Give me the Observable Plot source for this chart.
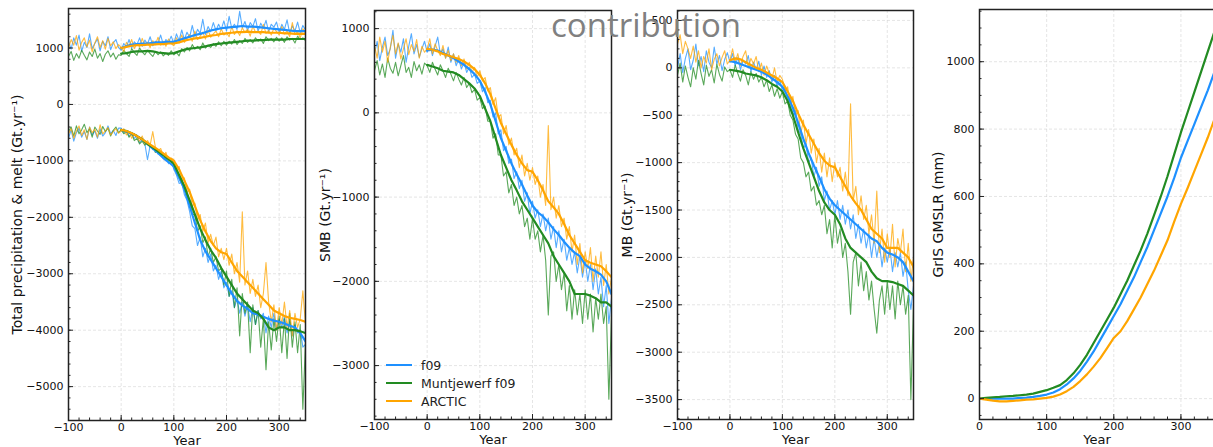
<!DOCTYPE html>
<html><head><meta charset="utf-8">
<script src="https://cdn.jsdelivr.net/npm/d3@7"></script>
<script src="https://cdn.jsdelivr.net/npm/@observablehq/plot@0.6"></script>
<style>
html,body{margin:0;padding:0;background:#fff;overflow:hidden;}
#wrap{position:relative;width:1213px;height:447px;overflow:hidden;font-family:"DejaVu Sans",sans-serif;}
.panel{position:absolute;top:0;}
#title{position:absolute;left:551px;top:2px;font-family:"Open Sans",sans-serif;font-size:33px;line-height:normal;color:#808080;white-space:nowrap;}
#legend{position:absolute;left:386px;top:356px;font-size:12.5px;color:#222;}
.row{display:flex;align-items:center;height:18px;}
.sw{width:26px;height:2.5px;margin-right:9px;}
</style></head>
<body><div id="wrap"></div>
<script>
// ---------- data ----------
const yearsRaw = d3.range(-100, 351, 5);
const yearsSmooth = d3.range(0, 351, 10);
const seriesNames = ["f09", "Muntjewerf f09", "ARCTIC"];
const seriesColors = ["#1e90ff", "#228b22", "#ffa500"];

// Panel 1: total precipitation (upper) & melt (lower), raw annual (every 5 yr)
const precipF09Raw = [1120,980,1180,1050,1230,940,1100,1010,1250,990,1080,1160,950,1120,1040,1200,970,1090,1150,1010,
 960,1080,1020,1150,1000,1110,1060,1180,1030,1140,1070,1200,1040,1120,1090,1230,1060,1150,1100,1210,
 1080,1250,1130,1320,1150,1280,1190,1400,1200,1330,1260,1510,1240,1380,1290,1450,1310,1420,1330,1480,
 1300,1560,1350,1420,1330,1650,1360,1470,1310,1450,1380,1520,1300,1440,1350,1490,1290,1420,1370,1460,
 1280,1420,1330,1500,1260,1390,1300,1460,1270,1400,1320];
const precipMuntRaw = [850,940,780,900,820,960,870,790,930,850,980,820,900,760,890,950,840,910,800,880,
 870,960,900,850,990,920,870,1000,930,880,960,900,850,940,880,930,860,910,870,950,
 880,920,860,990,930,1010,950,1060,980,1030,970,1090,1000,1050,1010,1080,1030,1110,1040,1120,
 1050,1120,1070,1150,1060,1130,1080,1170,1100,1150,1090,1180,1120,1160,1080,1200,1130,1170,1110,1190,
 1120,1180,1100,1200,1140,1170,1090,1210,1150,1180,1130];
const precipArcticRaw = [1000,1150,1050,1220,960,1100,1180,1020,1140,930,1090,1200,1010,1130,980,1170,1040,1110,990,1060,
 1010,940,1100,1030,1150,990,1080,1020,1170,1040,1100,1010,1130,1060,1190,1050,1120,1030,1160,1080,
 1040,1180,1090,1230,1100,1170,1240,1120,1300,1150,1210,1280,1160,1320,1190,1250,1300,1200,1340,1230,
 1270,1200,1380,1240,1310,1220,1360,1270,1330,1210,1390,1280,1300,1240,1420,1260,1310,1230,1350,1290,
 1230,1380,1250,1300,1200,1450,1240,1290,1180,1340,1260];
const meltF09Raw = [-600,-450,-650,-500,-420,-580,-480,-620,-400,-540,-470,-600,-430,-560,-500,-380,-520,-460,-550,-420,
 -420,-500,-460,-560,-530,-600,-560,-680,-620,-700,-980,-730,-800,-780,-880,-850,-950,-920,-1050,-1000,
 -1150,-1250,-1400,-1380,-1600,-1700,-1900,-2150,-2200,-2500,-2350,-2700,-2550,-2800,-2650,-2950,-2850,-3100,-2950,-3250,
 -3150,-3400,-3300,-3600,-3450,-3700,-3500,-3750,-3550,-3850,-3600,-3900,-3650,-3800,-3700,-4050,-3750,-3950,-3700,-4000,
 -3800,-3950,-3750,-4050,-3850,-4100,-3900,-4050,-4000,-4300,-4250];
const meltMuntRaw = [-480,-400,-560,-380,-520,-450,-350,-500,-430,-580,-400,-470,-530,-390,-480,-420,-560,-460,-400,-500,
 -450,-520,-480,-580,-520,-640,-600,-700,-650,-720,-680,-760,-740,-850,-800,-900,-860,-980,-950,-1000,
 -1000,-1200,-1250,-1400,-1450,-1650,-1700,-1950,-1950,-2250,-2150,-2450,-2350,-2700,-2550,-2800,-2700,-2950,-2900,-3200,
 -2950,-3400,-3100,-3600,-3250,-4100,-3350,-3700,-3500,-4400,-3550,-3900,-3650,-4300,-3800,-4700,-3850,-4350,-3800,-4200,
 -3750,-4400,-3800,-4500,-3700,-4300,-3850,-4400,-3900,-5400,-4200];
const meltArcticRaw = [-520,-430,-600,-470,-380,-550,-450,-620,-400,-500,-440,-580,-360,-520,-470,-410,-540,-480,-430,-510,
 -470,-430,-540,-480,-600,-520,-580,-650,-560,-700,-640,-720,-480,-760,-820,-780,-900,-850,-1000,-950,
 -980,-1150,-1100,-1350,-1300,-1550,-1500,-1800,-1750,-2050,-1950,-2250,-2100,-2450,-2300,-2500,-2350,-2700,-2550,-2750,
 -2550,-2850,-2650,-3000,-2800,-3150,-1900,-3200,-2950,-3350,-3100,-3400,-3200,-3600,-3350,-2800,-3500,-3850,-3550,-4000,
 -3600,-3900,-3500,-3950,-3650,-4100,-3700,-3950,-3800,-3300,-3900];
// smoothed (every 10 yr, from year 0)
const precipF09Smooth = [1000,1030,1060,1070,1080,1080,1090,1100,1100,1110,1110,1140,1170,1200,1230,1250,1280,1310,1330,1350,1360,1370,1380,1390,1380,1380,1370,1360,1350,1340,1330,1320,1310,1300,1300,1300];
const precipMuntSmooth = [900,910,930,940,940,950,940,920,910,900,910,940,970,990,1000,1010,1030,1050,1070,1080,1090,1100,1110,1120,1130,1130,1140,1140,1150,1150,1150,1150,1160,1160,1160,1160];
const precipArcticSmooth = [1000,1020,1040,1050,1050,1060,1060,1070,1070,1080,1080,1100,1130,1150,1170,1180,1200,1220,1230,1250,1260,1270,1280,1280,1290,1280,1280,1280,1270,1270,1270,1260,1260,1250,1250,1250];
const meltF09Smooth = [-450,-480,-520,-560,-620,-700,-780,-860,-950,-1020,-1100,-1300,-1500,-1800,-2100,-2400,-2600,-2750,-2900,-3050,-3200,-3350,-3480,-3560,-3620,-3700,-3720,-3760,-3800,-3830,-3850,-3880,-3920,-3950,-4050,-4200];
const meltMuntSmooth = [-450,-470,-510,-560,-620,-700,-760,-830,-900,-970,-1050,-1250,-1450,-1700,-1950,-2200,-2400,-2580,-2720,-2900,-3050,-3200,-3350,-3450,-3550,-3650,-3700,-3800,-3950,-4000,-3950,-3950,-4000,-4000,-4020,-4050];
const meltArcticSmooth = [-450,-470,-510,-560,-620,-680,-740,-800,-870,-940,-1000,-1150,-1350,-1550,-1800,-2050,-2250,-2420,-2550,-2620,-2650,-2800,-2950,-3050,-3150,-3250,-3350,-3450,-3550,-3650,-3700,-3750,-3780,-3800,-3820,-3850];

// Panel 2: SMB
const smbF09Raw = [700,850,620,780,900,680,760,980,650,820,720,880,600,790,940,700,810,660,760,850,
 720,820,680,790,900,700,760,650,780,600,700,560,640,520,600,480,540,420,460,350,
 380,250,300,120,150,-50,0,-250,-200,-450,-400,-600,-550,-780,-700,-900,-800,-1050,-950,-1200,
 -1050,-1250,-1150,-1350,-1200,-1400,-1250,-1500,-1350,-1600,-1400,-1650,-1500,-1750,-1600,-1800,-1650,-1900,-1700,-1950,
 -1750,-2000,-1800,-2100,-1850,-2150,-1950,-2300,-2050,-2500,-2200];
const smbMuntRaw = [500,620,450,580,420,650,530,470,600,440,560,680,480,540,420,610,500,570,460,590,
 560,480,600,520,450,570,500,420,530,460,380,480,400,330,420,300,350,240,280,150,
 180,50,80,-100,-100,-300,-250,-500,-500,-750,-700,-950,-850,-1100,-1000,-1200,-1100,-1350,-1250,-1500,
 -1250,-1500,-1400,-1650,-1450,-1750,-2400,-1700,-1650,-2000,-1800,-2100,-1900,-2350,-2050,-2450,-2100,-2400,-2150,-2500,
 -2100,-2450,-2150,-2600,-2200,-2450,-2150,-2500,-2300,-3400,-2400];
const smbArcticRaw = [800,650,900,720,850,600,780,920,700,830,640,760,880,690,810,730,870,650,790,720,
 760,880,700,820,740,680,800,650,740,620,700,600,680,560,640,520,600,480,540,420,
 500,380,420,260,300,100,180,-50,-20,-250,-150,-380,-300,-500,-420,-650,-500,-750,-600,-800,
 -650,-850,-750,-1000,-850,-1100,-150,-1150,-1000,-1250,-1100,-1350,-1250,-1500,-1350,-1650,-1450,-1800,-1550,-1900,
 -1650,-1850,-1600,-2000,-1700,-1950,-1650,-2050,-1800,-2150,-1950];
const smbF09Smooth = [740,750,740,710,680,650,610,570,520,460,380,250,100,-100,-300,-450,-600,-730,-850,-980,-1100,-1180,-1230,-1300,-1380,-1450,-1530,-1600,-1660,-1700,-1800,-1850,-1880,-1920,-2000,-2150];
const smbMuntSmooth = [570,550,530,500,490,480,450,400,350,290,200,50,-100,-300,-500,-650,-800,-920,-1050,-1150,-1250,-1350,-1450,-1550,-1700,-1800,-1900,-2000,-2150,-2150,-2150,-2170,-2200,-2250,-2250,-2300];
const smbArcticSmooth = [760,750,730,700,680,660,640,610,570,520,450,350,220,50,-120,-250,-380,-500,-600,-680,-700,-800,-920,-1050,-1120,-1200,-1320,-1450,-1550,-1650,-1750,-1780,-1800,-1820,-1880,-1950];

// Panel 3: MB
const mbF09Raw = [0,150,-50,100,200,-20,80,250,20,120,-40,180,60,0,220,40,130,-30,90,160,
 60,150,20,110,-20,80,40,130,-40,60,-20,70,-80,20,-100,-30,-150,-80,-200,-120,
 -250,-200,-350,-300,-500,-450,-650,-700,-850,-800,-1000,-950,-1150,-1050,-1250,-1150,-1400,-1300,-1500,-1400,
 -1550,-1400,-1600,-1450,-1650,-1500,-1700,-1550,-1800,-1650,-1850,-1700,-1900,-1750,-2000,-1800,-2000,-1850,-2100,-1900,
 -2050,-1900,-2150,-1950,-2100,-1950,-2200,-2050,-2350,-2550,-2300];
const mbMuntRaw = [-80,50,-150,20,-100,-200,0,-120,80,-60,-180,30,-90,-20,-160,40,-70,-140,10,-40,
 -20,-100,30,-60,-140,-20,-80,-180,-40,-120,-60,-150,-100,-200,-130,-250,-180,-300,-220,-320,
 -250,-380,-350,-500,-550,-700,-750,-950,-1000,-1150,-1100,-1300,-1250,-1450,-1400,-1550,-1450,-1750,-1600,-1900,
 -1550,-1850,-1700,-2000,-1850,-2150,-2600,-2050,-1950,-2300,-2050,-2350,-2150,-2450,-2250,-2550,-2800,-2450,-2300,-2600,
 -2250,-2550,-2300,-2650,-2250,-2500,-2300,-2600,-2400,-3500,-2500];
const mbArcticRaw = [250,350,150,280,200,100,230,60,180,0,120,50,200,-20,90,150,20,110,180,40,
 80,200,60,150,20,120,180,0,100,40,120,-40,50,-80,20,-60,-120,0,-150,-80,
 -120,-250,-200,-400,-300,-500,-450,-700,-550,-800,-650,-900,-750,-1000,-850,-1100,-900,-1150,-950,-1200,
 -1000,-1150,-1050,-1300,-1100,-1350,-380,-1400,-1250,-1550,-1350,-1600,-1450,-1750,-1550,-1850,-1300,-1950,-1700,-2050,
 -1750,-2000,-1650,-2100,-1800,-1950,-1700,-2150,-1850,-2250,-2000];
const mbF09Smooth = [70,60,40,20,0,-20,-40,-70,-110,-150,-200,-300,-420,-580,-750,-900,-1030,-1150,-1280,-1380,-1450,-1500,-1550,-1600,-1650,-1700,-1750,-1800,-1830,-1900,-1950,-1970,-2000,-2050,-2150,-2250];
const mbMuntSmooth = [-20,-30,-40,-60,-70,-80,-100,-130,-170,-200,-250,-350,-500,-680,-850,-1000,-1150,-1300,-1420,-1500,-1550,-1650,-1800,-1900,-1950,-2000,-2050,-2150,-2220,-2250,-2250,-2260,-2280,-2300,-2350,-2400];
const mbArcticSmooth = [80,100,90,60,30,0,-20,-50,-80,-110,-150,-250,-350,-480,-600,-700,-800,-900,-980,-1030,-1050,-1150,-1250,-1350,-1430,-1500,-1600,-1700,-1750,-1800,-1900,-1900,-1900,-1950,-2000,-2100];

// Panel 4: GrIS GMSLR (mm), every 10 yr
const slrF09 = [0,0,0,0,0,0,2,3,5,8,12,18,28,42,60,82,110,140,175,210,245,280,320,360,405,450,500,550,600,655,715,765,815,865,915,970];
const slrMunt = [0,2,4,5,7,8,10,12,15,20,25,32,40,55,75,100,130,165,200,235,270,310,350,395,440,490,545,600,660,725,790,850,910,970,1030,1090];
const slrArctic = [0,-3,-6,-8,-8,-7,-5,-3,-2,0,2,6,12,22,35,52,72,95,120,150,180,200,230,265,300,340,380,425,470,525,578,625,675,725,775,830];

// tick values
const xTicksMain = [-100, 0, 100, 200, 300];
const xTicksSlr = [0, 100, 200, 300];
const yTicksP1 = [-5000, -4000, -3000, -2000, -1000, 0, 1000];
const yTicksP2 = [-3000, -2000, -1000, 0, 1000];
const yTicksP3 = [-3500, -3000, -2500, -2000, -1500, -1000, -500, 0, 500];
const yTicksP4 = [0, 200, 400, 600, 800, 1000];

// ---------- drawing ----------
const toRows = (vals, years) => vals.map((v, i) => ({year: years[i], value: v}));
const fmt = d => d < 0 ? "\u2212" + Math.abs(d) : String(d);
const wrap = document.getElementById("wrap");

function panel(o) {
  const gridStyle = {stroke: "#c8c8c8", strokeOpacity: 0.8, strokeDasharray: "3,2", strokeWidth: 0.6};
  const marks = [
    Plot.gridX(o.xMajor, gridStyle),
    Plot.gridY(o.yMajor, gridStyle)
  ];
  (o.raw || []).forEach((vals, i) => marks.push(Plot.line(toRows(vals, yearsRaw), {x: "year", y: "value", stroke: seriesColors[i], strokeWidth: 1.1, strokeOpacity: 0.75, clip: true})));
  (o.raw2 || []).forEach((vals, i) => marks.push(Plot.line(toRows(vals, yearsRaw), {x: "year", y: "value", stroke: seriesColors[i], strokeWidth: 1.1, strokeOpacity: 0.75, clip: true})));
  (o.smooth || []).forEach((vals, i) => marks.push(Plot.line(toRows(vals, yearsSmooth), {x: "year", y: "value", stroke: seriesColors[i], strokeWidth: 2.2, clip: true})));
  (o.smooth2 || []).forEach((vals, i) => marks.push(Plot.line(toRows(vals, yearsSmooth), {x: "year", y: "value", stroke: seriesColors[i], strokeWidth: 2.2, clip: true})));
  marks.push(
    Plot.axisX(o.xMinor, {tickSize: -2.5, tickFormat: () => "", label: null, stroke: "#222"}),
    Plot.axisY(o.yMinor, {tickSize: -2.5, tickFormat: () => "", label: null, stroke: "#222"}),
    Plot.axisX(o.xMajor, {tickSize: -5, tickPadding: 8, tickFormat: fmt, label: null, stroke: "#222", fontSize: 11}),
    Plot.axisY(o.yMajor, {tickSize: -5, tickPadding: 10, tickFormat: fmt, label: null, stroke: "#222", fontSize: 11}),
    Plot.frame({stroke: "#222", strokeWidth: 1.5}),
    Plot.text(["Year"], {frameAnchor: "bottom", dy: 20, lineAnchor: "middle", textAnchor: "middle", fontSize: 13, fill: "#111"}),
    Plot.text([o.ylabel], {frameAnchor: "left", dx: o.labelDx, rotate: -90, lineAnchor: "middle", textAnchor: "middle", fontSize: 14, fill: "#111"})
  );
  const svg = Plot.plot({
    width: o.width, height: 447,
    marginLeft: o.mL, marginRight: o.mR, marginTop: o.mT, marginBottom: o.mB,
    x: {domain: o.xDomain},
    y: {domain: o.yDomain},
    style: {fontFamily: "DejaVu Sans", fontSize: "11px", background: "transparent", overflow: "visible", color: "#111"},
    marks
  });
  svg.classList.add("panel");
  svg.style.left = o.left + "px";
  wrap.appendChild(svg);
}

const xMinorMain = d3.range(-100, 351, 20);
panel({left: 0, width: 310, mL: 68, mR: 5, mT: 8, mB: 27,
  xDomain: [-100, 350], yDomain: [-5600, 1700],
  xMajor: xTicksMain, xMinor: xMinorMain, yMajor: yTicksP1, yMinor: d3.range(-5600, 1700, 200),
  raw: [precipF09Raw, precipMuntRaw, precipArcticRaw], raw2: [meltF09Raw, meltMuntRaw, meltArcticRaw],
  smooth: [precipF09Smooth, precipMuntSmooth, precipArcticSmooth],
  smooth2: [meltF09Smooth, meltMuntSmooth, meltArcticSmooth],
  ylabel: "Total precipitation & melt (Gt.yr\u207B\u00B9)", labelDx: -51});

panel({left: 310, width: 305, mL: 64, mR: 4, mT: 10, mB: 28,
  xDomain: [-100, 350], yDomain: [-3640, 1215],
  xMajor: xTicksMain, xMinor: xMinorMain, yMajor: yTicksP2, yMinor: d3.range(-3600, 1201, 200),
  raw: [smbF09Raw, smbMuntRaw, smbArcticRaw],
  smooth: [smbF09Smooth, smbMuntSmooth, smbArcticSmooth],
  ylabel: "SMB (Gt.yr\u207B\u00B9)", labelDx: -49});

panel({left: 615, width: 302, mL: 62, mR: 4, mT: 10, mB: 28,
  xDomain: [-100, 350], yDomain: [-3710, 605],
  xMajor: xTicksMain, xMinor: xMinorMain, yMajor: yTicksP3, yMinor: d3.range(-3700, 601, 100),
  raw: [mbF09Raw, mbMuntRaw, mbArcticRaw],
  smooth: [mbF09Smooth, mbMuntSmooth, mbArcticSmooth],
  ylabel: "MB (Gt.yr\u207B\u00B9)", labelDx: -50});

panel({left: 917, width: 297, mL: 62, mR: 0, mT: 9, mB: 28,
  xDomain: [0, 350], yDomain: [-62, 1155],
  xMajor: xTicksSlr, xMinor: d3.range(0, 351, 20), yMajor: yTicksP4, yMinor: d3.range(-50, 1151, 50),
  smooth: [slrF09, slrMunt, slrArctic],
  ylabel: "GrIS GMSLR (mm)", labelDx: -41});

// legend (inside panel 2)
const leg = document.createElement("div");
leg.id = "legend";
seriesNames.forEach((n, i) => {
  const r = document.createElement("div"); r.className = "row";
  const s = document.createElement("span"); s.className = "sw"; s.style.background = seriesColors[i];
  const t = document.createElement("span"); t.textContent = n;
  r.appendChild(s); r.appendChild(t); leg.appendChild(r);
});
wrap.appendChild(leg);

const title = document.createElement("div");
title.id = "title";
title.textContent = "contribution";
wrap.appendChild(title);
</script></body></html>
